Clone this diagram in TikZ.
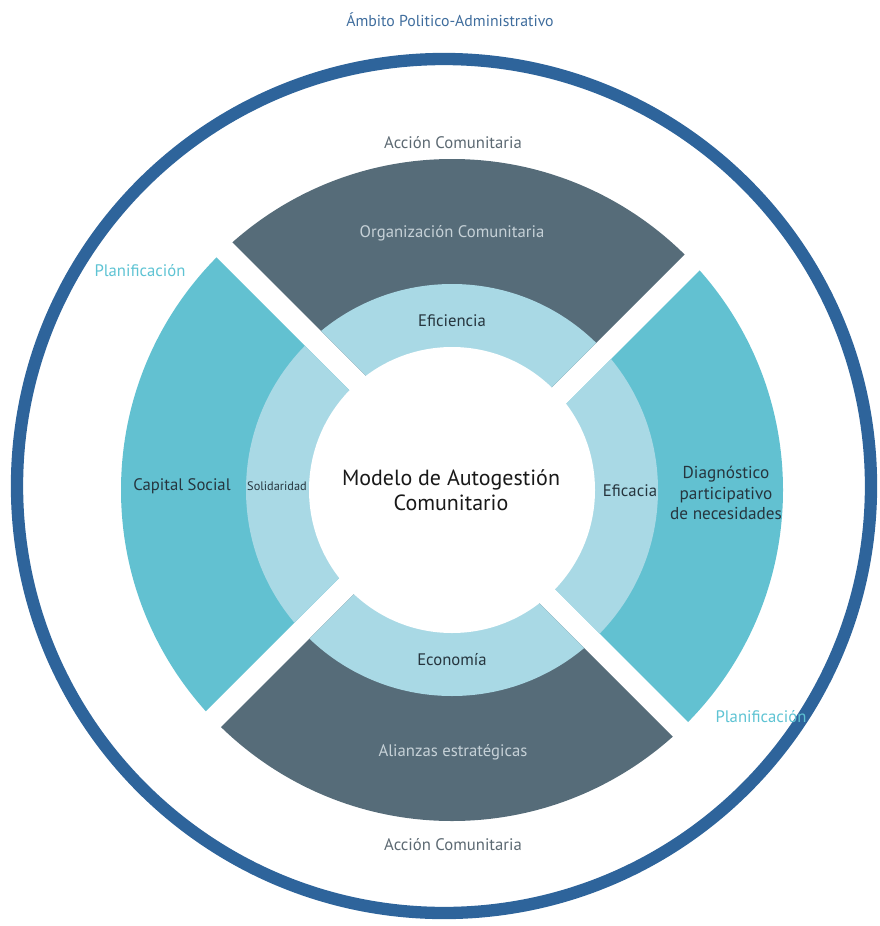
\documentclass[tikz,border=0pt]{standalone}
\usepackage{fontspec}
\setmainfont{PT Sans}

\definecolor{ringblue}{HTML}{2E649B}
\definecolor{slate}{HTML}{566C79}
\definecolor{segteal}{HTML}{62C1D1}
\definecolor{seglight}{HTML}{A9D9E5}
\definecolor{inkdark}{HTML}{26353E}
\definecolor{paleink}{HTML}{C6D1D7}
\definecolor{greyink}{HTML}{5C6972}
\definecolor{planteal}{HTML}{5EC3D3}
\definecolor{titleblue}{HTML}{3F6D9D}

\begin{document}
\begin{tikzpicture}[x=0.02cm, y=-0.02cm,
        lbl/.style={font=\fontsize{9.5}{11.5}\selectfont, align=center, inner sep=0pt},
        onlight/.style={lbl, text=inkdark},
        ondark/.style={lbl, text=paleink},
        outer/.style={lbl, text=greyink},
        plan/.style={lbl, text=planteal},
        model/.style={font=\fontsize{12.5}{14.5}\selectfont, align=center, inner sep=0pt, text=black!90}]
    \useasboundingbox (0,0) rectangle (879,926);
    % outer boundary
    \draw[ringblue, line width=7pt] (444,486) circle (427);
    % the four quarters, each one clipped to its own wedge
    \foreach \ax/\ay/\bx/\by/\cx/\cy/\col in {
            464.5/474.5/-35.5/-25.5/964.5/-25.5/slate,
            468/502/968/2/968/1002/segteal,
            442/506/-58/1006/942/1006/slate,
            438/479/-62/-21/-62/979/segteal} {
        \begin{scope}
            \clip (\ax,\ay) -- (\bx,\by) -- (\cx,\cy) -- cycle;
            \fill[\col] (452,490) circle (331);
            \fill[seglight] (452,490) circle (206);
        \end{scope}
    }
    \fill[white] (452,490) circle (143);

    \node[model] (modelo) at (451,490) {Modelo de Autogestión\\Comunitario};
    \node[ondark] (organizacion) at (452,233) {Organización Comunitaria};
    \node[onlight] (eficiencia) at (452,321) {Eficiencia};
    \node[onlight] (capital) at (182,486) {Capital Social};
    \node[onlight, font=\fontsize{7}{9}\selectfont] (solidaridad) at (277,486) {Solidaridad};
    \node[onlight] (eficacia) at (630,491) {Eficacia};
    \node[onlight, font=\fontsize{9.8}{11.5}\selectfont] (diagnostico) at (726,493) {Diagnóstico\\participativo\\de necesidades};
    \node[onlight] (economia) at (452,660) {Economía};
    \node[ondark] (alianzas) at (453,752) {Alianzas estratégicas};
    \node[outer] (accion top) at (453,143) {Acción Comunitaria};
    \node[outer] (accion bottom) at (453,845) {Acción Comunitaria};
    \node[plan] (plan left) at (140,271) {Planificación};
    \node[plan] (plan right) at (761,717) {Planificación};
    \node[lbl, text=titleblue, font=\fontsize{9}{11}\selectfont] (ambito) at (450,20) {Ámbito Politico-Administrativo};
\end{tikzpicture}
\end{document}
